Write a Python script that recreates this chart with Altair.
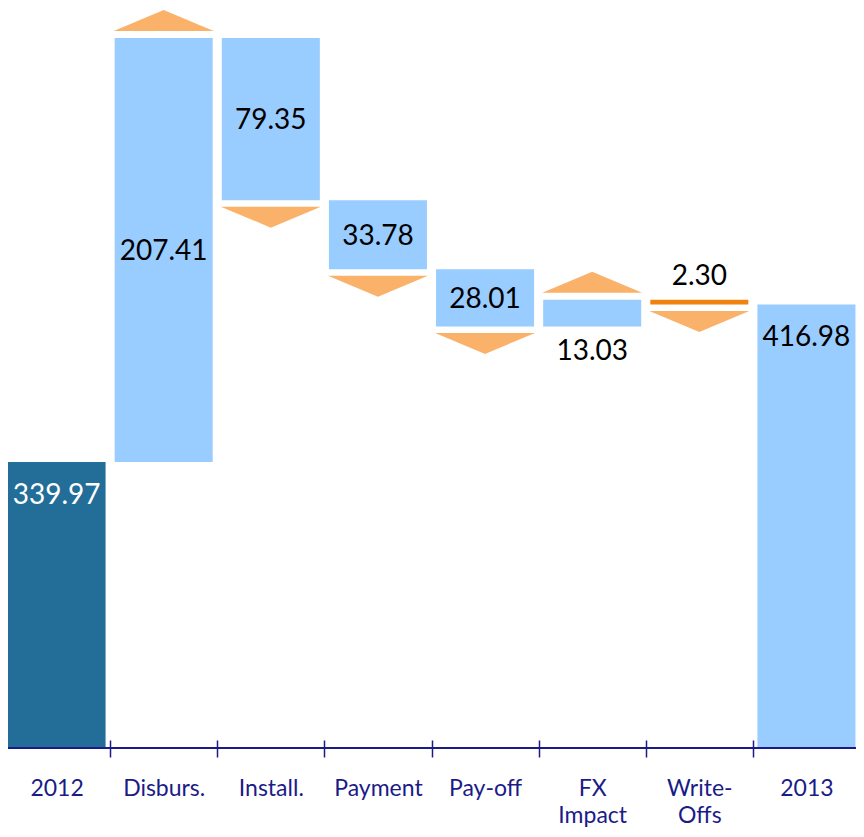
import altair as alt
import pandas as pd

categories = ["2012", "Disburs.", "Install.", "Payment", "Pay-off", "FX\nImpact", "Write-\nOffs", "2013"]
values = [339.97, 207.41, -79.35, -33.78, -28.01, 13.03, -2.30, 416.98]
kinds = ["total", "change", "change", "change", "change", "change", "change", "total"]
label_texts = ["339.97", "207.41", "79.35", "33.78", "28.01", "13.03", "2.30", "416.98"]
bar_groups = ["opening", "flow", "flow", "flow", "flow", "flow", "minor", "flow"]
base_value = 200
y_max = 563.5

navy = "#1B1B87"

rows = []
running = 0.0
for c, v, k, t, g in zip(categories, values, kinds, label_texts, bar_groups):
    if k == "total":
        lo, hi = base_value, v
        running = v
        direction = "none"
        place = "top"
    else:
        start = running
        end = running + v
        running = end
        lo, hi = min(start, end), max(start, end)
        direction = "up" if v > 0 else "down"
        if abs(v) >= 20:
            place = "middle"
        else:
            place = "below" if direction == "up" else "above"
    rows.append(dict(category=c, lo=lo, hi=hi, mid=(lo + hi) / 2, direction=direction,
                     place=place, label=t, group=g, kind=k))
df = pd.DataFrame(rows)

x = alt.X(
    "category:N",
    sort=categories,
    scale=alt.Scale(paddingInner=0, paddingOuter=0),
    axis=alt.Axis(
        title=None, domain=False, grid=False, labelAngle=0,
        tickBand="extent", tickSize=17, tickWidth=1.5, tickColor=navy, offset=-8,
        labelFont="Lato", labelFontSize=23, labelColor=navy, labelPadding=20,
        labelLineHeight=27, labelOverlap=False,
        labelExpr="split(datum.label, '\\n')",
    ),
)
yscale = alt.Scale(domain=[base_value, y_max], nice=False, zero=False)

base = alt.Chart(df)

bars = base.mark_bar(width=alt.RelativeBandSize(0.915)).encode(
    x=x,
    y=alt.Y("lo:Q", scale=yscale, axis=None),
    y2="hi:Q",
    color=alt.Color("group:N", scale=alt.Scale(domain=["opening", "flow", "minor"],
                                                range=["#236D99", "#99CCFF", "#F0820F"]), legend=None),
)

up_path = "M-1,0.21 L0,-0.21 L1,0.21 Z"
down_path = "M-1,-0.21 L1,-0.21 L0,0.21 Z"

up_tri = base.transform_filter("datum.direction == 'up'").mark_point(
    shape=up_path, size=10000, filled=True, color="#FAB26A", opacity=1, strokeWidth=0
).encode(x=x, y=alt.Y("hi:Q", scale=yscale, axis=None), yOffset=alt.value(-17.5))

down_tri = base.transform_filter("datum.direction == 'down'").mark_point(
    shape=down_path, size=10000, filled=True, color="#FAB26A", opacity=1, strokeWidth=0
).encode(x=x, y=alt.Y("lo:Q", scale=yscale, axis=None), yOffset=alt.value(17))

text_style = dict(font="Lato", fontSize=28, baseline="middle", align="center")

txt_mid = base.transform_filter("datum.place == 'middle'").mark_text(**text_style, dy=2, color="black").encode(
    x=x, y=alt.Y("mid:Q", scale=yscale, axis=None), text="label:N")

txt_top = base.transform_filter("datum.place == 'top'").mark_text(**text_style, dy=34).encode(
    x=x, y=alt.Y("hi:Q", scale=yscale, axis=None), text="label:N",
    color=alt.condition("datum.group == 'opening'", alt.value("white"), alt.value("black")))

txt_below = base.transform_filter("datum.place == 'below'").mark_text(**text_style, dy=26, color="black").encode(
    x=x, y=alt.Y("lo:Q", scale=yscale, axis=None), text="label:N")

txt_above = base.transform_filter("datum.place == 'above'").mark_text(**text_style, dy=-23, color="black").encode(
    x=x, y=alt.Y("hi:Q", scale=yscale, axis=None), text="label:N")

axis_line = alt.Chart(pd.DataFrame({"b": [base_value]})).mark_rule(color=navy, strokeWidth=2).encode(
    y=alt.Y("b:Q", scale=yscale, axis=None))

chart = alt.layer(bars, up_tri, down_tri, txt_mid, txt_top, txt_below, txt_above, axis_line).properties(
    width=857, height=743,
    autosize=alt.AutoSizeParams(type="none"),
    padding={"left": -5, "top": -3, "right": -4, "bottom": 80},
).configure_view(strokeWidth=0).configure(background="white")

chart.save("out.html", embed_options={"renderer": "svg", "actions": False})
